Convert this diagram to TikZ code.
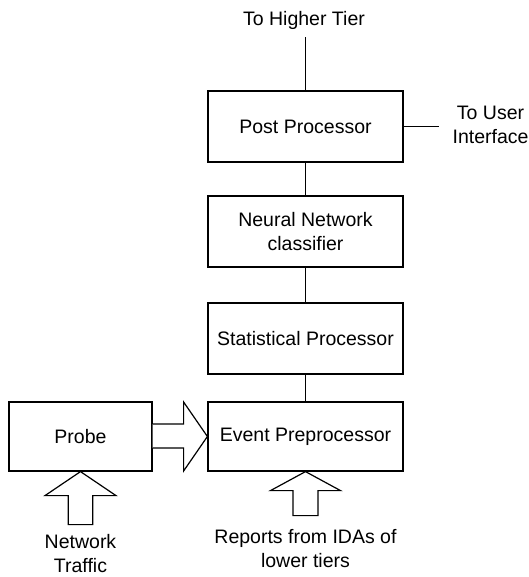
\documentclass[tikz,border=0pt]{standalone}
\usepackage{fontspec}
\setmainfont{Liberation Sans}
\usetikzlibrary{calc}
\begin{document}
\begin{tikzpicture}[x=1pt,y=-1pt,
  line width=1.2pt,
  lbl/.style={font=\fontsize{19.5}{24}\selectfont, align=center, inner sep=0pt},
  stage/.style={draw, rectangle, minimum width=195pt, minimum height=71pt, lbl},
  probebox/.style={draw, rectangle, minimum width=143pt, minimum height=69pt, lbl},
  hollow/.style={draw, fill=white, line join=miter}]
\useasboundingbox (0,0) rectangle (528,577);

% processing chain
\node[stage] (post)  at (305.5,126.5) {Post Processor};
\node[stage] (nn)    at (305.5,231.5) {Neural Network\\classifier};
\node[stage] (stat)  at (305.5,338.5) {Statistical Processor};
\node[stage, minimum height=69pt] (event) at (305.5,436.5) {Event Preprocessor};
\node[probebox] (probe) at (80.5,436.5) {Probe};

% external labels
\node[lbl] (higher) at (304,20) {To Higher Tier};
\node[lbl, anchor=west] (ui) at (452,125) {To User\\Interface};
\node[lbl] (traffic) at (80.5,554) {Network\\Traffic};
\node[lbl] (reports) at (305.5,549) {Reports from IDAs of\\lower tiers};
\coordinate (topend) at (305.5,37);
\coordinate (uiend) at (439,126.5);

% connectors
\draw (post.north) -- (topend);
\draw (post.east) -- (uiend);
\draw (post) -- (nn);
\draw (nn) -- (stat);
\draw (stat) -- (event);

% hollow arrow: probe -> event preprocessor
\draw[hollow] ($(probe.east)+(0,-12.5)$) -- ($(probe.east)+(31,-12.5)$)
  -- ($(probe.east)+(31,-34.5)$) -- (event.west) -- ($(probe.east)+(31,34.5)$)
  -- ($(probe.east)+(31,11.5)$) -- ($(probe.east)+(0,11.5)$);

% hollow arrow: network traffic -> probe
\draw[hollow] (probe.south) -- ($(probe.south)+(35.5,24)$) -- ($(probe.south)+(12.2,24)$)
  -- ($(probe.south)+(12.2,53)$) -- ($(probe.south)+(-12.2,53)$)
  -- ($(probe.south)+(-12.2,24)$) -- ($(probe.south)+(-35.5,24)$) -- cycle;

% hollow arrow: reports -> event preprocessor
\draw[hollow] (event.south) -- ($(event.south)+(35,19)$) -- ($(event.south)+(12.5,19)$)
  -- ($(event.south)+(12.5,44)$) -- ($(event.south)+(-12.5,44)$)
  -- ($(event.south)+(-12.5,19)$) -- ($(event.south)+(-35,19)$) -- cycle;
\end{tikzpicture}
\end{document}
